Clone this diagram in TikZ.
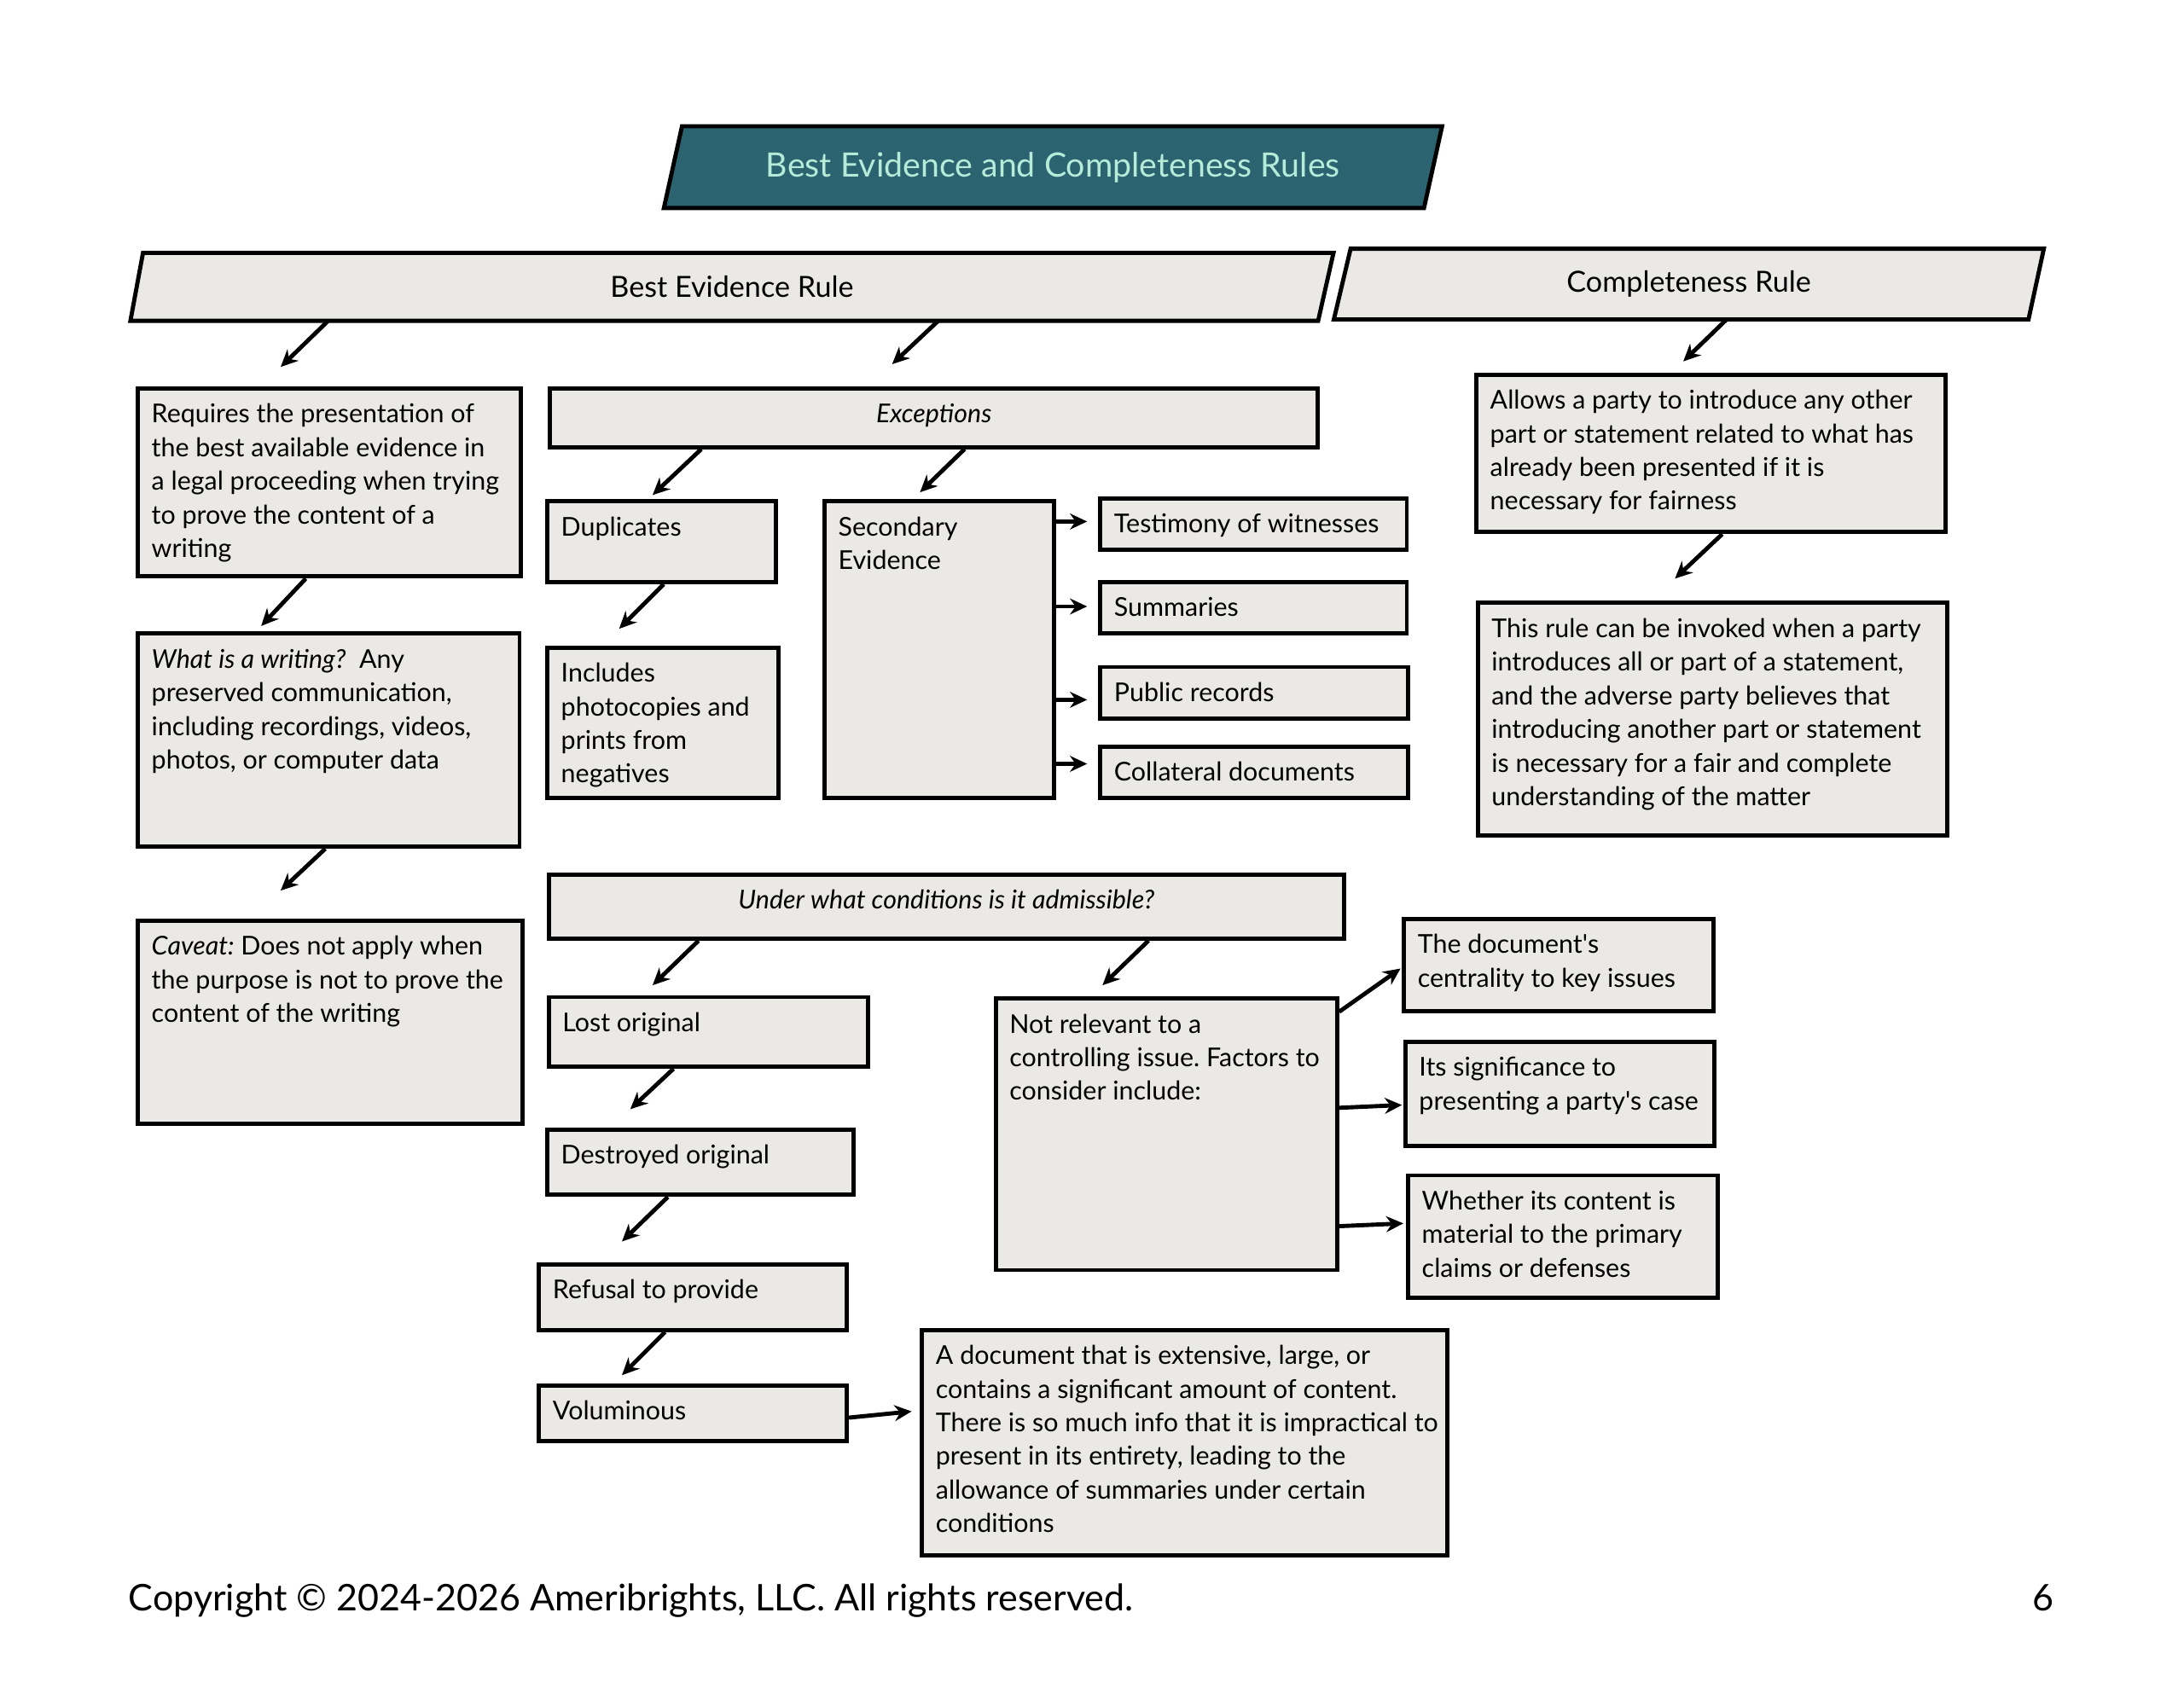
\documentclass[tikz,border=0pt]{standalone}
\usepackage{fontspec}
\setmainfont{Lato}
\usetikzlibrary{fit,calc,arrows.meta}
\definecolor{boxfill}{HTML}{EAE9E5}
\definecolor{titlefill}{HTML}{2C6370}
\definecolor{titletext}{HTML}{B5EBD8}
\frenchspacing
\begin{document}
\begin{tikzpicture}[x=0.02cm,y=-0.02cm,
  bx/.style={draw=black, fill=boxfill, line width=1.7pt, inner sep=0pt},
  gbox/.style={inner sep=0pt},
  txt/.style={anchor=north west, inner sep=0pt, align=left, font=\fontsize{10.6}{13.75}\selectfont},
  ctxt/.style={anchor=north, inner sep=0pt, align=center, font=\fontsize{10.6}{13.75}\selectfont\itshape},
  hdrtxt/.style={inner sep=0pt, font=\fontsize{11.9}{14}\selectfont},
  arr/.style={line width=1.7pt, -{Stealth[length=7pt,width=6.5pt]}},
  hdr/.style={draw=black, fill=boxfill, line width=1.7pt}
]
\useasboundingbox (0,0) rectangle (1568,1212);

% ---------- title ----------
\node[gbox, fit={(477,91) (1035,149)}] (title) {};
\filldraw[draw=black, fill=titlefill, line width=1.7pt] ($(title.north west)+(13,0)$) -- (title.north east) -- ($(title.south east)+(-13,0)$) -- (title.south west) -- cycle;
\node[inner sep=0pt, text=titletext, font=\fontsize{13.7}{16}\selectfont] (titlet) at (title.center) {Best Evidence and Completeness Rules};

% ---------- headers ----------
\node[gbox, fit={(94,182) (957,230)}] (ber) {};
\filldraw[hdr] ($(ber.north west)+(9,0)$) -- (ber.north east) -- ($(ber.south east)+(-11,0)$) -- (ber.south west) -- cycle;
\node[hdrtxt] (bert) at (ber.center) {Best Evidence Rule};

\node[gbox, fit={(958,179) (1467,229)}] (cr) {};
\filldraw[hdr] ($(cr.north west)+(12,0)$) -- (cr.north east) -- ($(cr.south east)+(-11,0)$) -- (cr.south west) -- cycle;
\node[hdrtxt] (crt) at (cr.center) {Completeness Rule};

% ---------- left column ----------
\node[bx, fit={(99,279) (374,414)}] (req) {};
\node[txt] (reqt) at ($(req.north west)+(11,9)$) {\strut Requires the presentation of\\the best available evidence in\\a legal proceeding when trying\\to prove the content of a\\writing};

\node[bx, fit={(99,455) (373,608)}] (what) {};
\node[txt] (whatt) at ($(what.north west)+(11,9)$) {\strut\textit{What is a writing?}\ \ Any\\preserved communication,\\including recordings, videos,\\photos, or computer data};

\node[bx, fit={(99,661) (375,807)}] (cav) {};
\node[txt] (cavt) at ($(cav.north west)+(11,9)$) {\strut\textit{Caveat:} Does not apply when\\the purpose is not to prove the\\content of the writing};

% ---------- exceptions ----------
\node[bx, fit={(395,279) (946,321)}] (exc) {};
\node[ctxt] (exct) at ($(exc.north)+(0,9)$) {\strut Exceptions};

\node[bx, fit={(393,360) (557,418)}] (dup) {};
\node[txt] (dupt) at ($(dup.north west)+(11,9)$) {\strut Duplicates};

\node[bx, fit={(393,465) (559,573)}] (inc) {};
\node[txt] (inct) at ($(inc.north west)+(11,9)$) {\strut Includes\\photocopies and\\prints from\\negatives};

\node[bx, fit={(592,360) (757,573)}] (sec) {};
\node[txt] (sect) at ($(sec.north west)+(11,9)$) {\strut Secondary\\Evidence};

\node[bx, fit={(790,358) (1010,395)}] (tes) {};
\node[txt] (test) at ($(tes.north west)+(11,9)$) {\strut Testimony of witnesses};
\node[bx, fit={(790,418) (1010,455)}] (sum) {};
\node[txt] (sumt) at ($(sum.north west)+(11,9)$) {\strut Summaries};
\node[bx, fit={(790,479) (1011,516)}] (pub) {};
\node[txt] (pubt) at ($(pub.north west)+(11,9)$) {\strut Public records};
\node[bx, fit={(790,536) (1011,573)}] (col) {};
\node[txt] (colt) at ($(col.north west)+(11,9)$) {\strut Collateral documents};

% ---------- completeness ----------
\node[bx, fit={(1060,269) (1397,382)}] (all) {};
\node[txt] (allt) at ($(all.north west)+(11,9)$) {\strut Allows a party to introduce any other\\part or statement related to what has\\already been presented if it is\\necessary for fairness};

\node[bx, fit={(1061,433) (1398,600)}] (thr) {};
\node[txt] (thrt) at ($(thr.north west)+(11,9)$) {\strut This rule can be invoked when a party\\introduces all or part of a statement,\\and the adverse party believes that\\introducing another part or statement\\is necessary for a fair and complete\\understanding of the matter};

% ---------- admissibility ----------
\node[bx, fit={(394,628) (965,674)}] (und) {};
\node[ctxt] (undt) at ($(und.north)+(0,9)$) {\strut Under what conditions is it admissible?};

\node[bx, fit={(394,716) (623,766)}] (lost) {};
\node[txt] (lostt) at ($(lost.north west)+(11,9)$) {\strut Lost original};
\node[bx, fit={(393,811) (613,858)}] (des) {};
\node[txt] (dest) at ($(des.north west)+(11,9)$) {\strut Destroyed original};
\node[bx, fit={(387,908) (608,955)}] (ref) {};
\node[txt] (reft) at ($(ref.north west)+(11,9)$) {\strut Refusal to provide};
\node[bx, fit={(387,995) (608,1035)}] (vol) {};
\node[txt] (volt) at ($(vol.north west)+(11,9)$) {\strut Voluminous};

\node[bx, fit={(662,955) (1039,1117)}] (adoc) {};
\node[txt] (adoct) at ($(adoc.north west)+(11,9)$) {\strut A document that is extensive, large, or\\contains a significant amount of content.\\There is so much info that it is impractical to\\present in its entirety, leading to the\\allowance of summaries under certain\\conditions};

\node[bx, fit={(715,717) (960,912)}] (nr) {};
\node[txt] (nrt) at ($(nr.north west)+(11,9)$) {\strut Not relevant to a\\controlling issue. Factors to\\consider include:};

\node[bx, fit={(1008,660) (1230,726)}] (doc) {};
\node[txt] (doct) at ($(doc.north west)+(11,9)$) {\strut The document\textquotesingle s\\centrality to key issues};
\node[bx, fit={(1009,748) (1231,823)}] (sig) {};
\node[txt] (sigt) at ($(sig.north west)+(11,9)$) {\strut Its significance to\\presenting a party\textquotesingle s case};
\node[bx, fit={(1011,844) (1233,932)}] (wh) {};
\node[txt] (wht) at ($(wh.north west)+(11,9)$) {\strut Whether its content is\\material to the primary\\claims or defenses};

% ---------- arrows ----------
\draw[arr] ($(ber.south west)+(142,0)$) -- ($(req.north west)+(104,-14)$);
\draw[arr] ($(ber.south west)+(580,0)$) -- ($(exc.north west)+(247,-16)$);
\draw[arr] ($(cr.south west)+(282,0)$) -- ($(all.north west)+(150,-8)$);
\draw[arr] ($(req.south west)+(122,0)$) -- ($(what.north west)+(90,-4)$);
\draw[arr] ($(what.south west)+(136,0)$) -- ($(cav.north west)+(104,-20)$);
\draw[arr] ($(exc.south west)+(110,0)$) -- ($(dup.north west)+(77,-3)$);
\draw[arr] ($(exc.south west)+(299,0)$) -- ($(sec.north west)+(70,-5)$);
\draw[arr] ($(dup.south west)+(85,0)$) -- ($(inc.north west)+(53,-12)$);
\coordinate (ta) at ($(tes.west)+(-8,-2)$);
\coordinate (tb) at ($(sum.west)+(-8,-1)$);
\coordinate (tc) at ($(pub.west)+(-8,5)$);
\coordinate (td) at ($(col.west)+(-8,-6)$);
\draw[arr] (sec.east |- ta) -- (ta);
\draw[arr] (sec.east |- tb) -- (tb);
\draw[arr] (sec.east |- tc) -- (tc);
\draw[arr] (sec.east |- td) -- (td);
\draw[arr] ($(all.south west)+(178,0)$) -- ($(thr.north west)+(143,-16)$);
\draw[arr] ($(und.south west)+(109,0)$) -- ($(lost.north west)+(76,-7)$);
\draw[arr] ($(und.south west)+(432,0)$) -- ($(nr.north west)+(78,-8)$);
\draw[arr] ($(lost.south west)+(91,0)$) -- ($(des.north west)+(61,-13)$);
\draw[arr] ($(des.south west)+(88,0)$) -- ($(ref.north west)+(61,-15)$);
\draw[arr] ($(ref.south west)+(92,0)$) -- ($(vol.north west)+(61,-6)$);
\draw[arr] ($(vol.east)+(0,3)$) -- ($(adoc.north west)+(-6,60)$);
\draw[arr] ($(nr.north east)+(0,11)$) -- ($(doc.north west)+(-1,37)$);
\draw[arr] ($(nr.north east)+(0,80)$) -- ($(sig.north west)+(-1,47)$);
\draw[arr] ($(nr.north east)+(0,165)$) -- ($(wh.north west)+(-2,36)$);

% ---------- footer ----------
\node[anchor=base west, inner sep=0pt, font=\fontsize{15}{18}\selectfont] (copy) at (92,1157) {Copyright © 2024-2026 Ameribrights, LLC. All rights reserved.};
\node[anchor=base east, inner sep=0pt, font=\fontsize{15}{18}\selectfont] (page) at (1475,1157) {6};
\end{tikzpicture}
\end{document}
